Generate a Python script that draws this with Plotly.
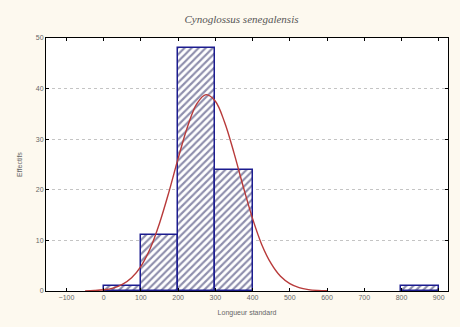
import plotly.graph_objects as go

# Histogram data (Longueur standard, bins of width 100)
bin_centers = [50, 150, 250, 350, 850]
counts = [1, 11, 48, 24, 1]
bin_width = 100

# Fitted normal curve
curve_x = [-50, -25, 0, 25, 50, 75, 100, 125, 150, 175, 200, 225, 250, 275,
           300, 325, 350, 375, 400, 425, 450, 475, 500, 525, 550, 575, 600]
curve_y = [0.03, 0.09, 0.24, 0.58, 1.29, 2.61, 4.89, 8.4, 13.4, 19.5, 26.2, 32.4,
           37.0, 38.8, 37.5, 33.3, 27.3, 20.6, 14.3, 9.1, 5.4, 2.9, 1.46, 0.67,
           0.28, 0.11, 0.04]

x_ticks = [-100, 0, 100, 200, 300, 400, 500, 600, 700, 800, 900]
y_ticks = [0, 10, 20, 30, 40, 50]

fig = go.Figure()
fig.add_trace(go.Bar(
    x=bin_centers, y=counts, width=[bin_width] * len(counts),
    marker=dict(color="white",
                line=dict(color="#1c1c8f", width=1.5),
                pattern=dict(shape="/", fgcolor="#1e1e5a", bgcolor="white",
                             size=5, solidity=0.42)),
    showlegend=False,
))
fig.add_trace(go.Scatter(
    x=curve_x, y=curve_y, mode="lines", line=dict(color="#b83a3a", width=1.4, shape="spline"),
    showlegend=False,
))

fig.update_layout(
    width=460, height=327,
    margin=dict(l=46, r=12, t=38, b=36),
    paper_bgcolor="#fdf9ef", plot_bgcolor="white",
    bargap=0,
    title=dict(text="<i>Cynoglossus senegalensis</i>", x=0.525, xanchor="center",
               y=0.94, yanchor="middle",
               font=dict(family="Liberation Serif", size=11, color="#555555")),
    font=dict(family="Liberation Sans", size=7, color="#666666"),
)
fig.update_xaxes(
    range=[-155, 925], tickvals=x_ticks, ticks="inside", ticklen=3, tickcolor="black",
    showline=True, linecolor="black", linewidth=1, mirror="ticks", showgrid=False,
    zeroline=False,
    title=dict(text="Longueur standard", font=dict(size=7, color="#666666"), standoff=9),
)
fig.update_yaxes(
    range=[0, 50], tickvals=y_ticks, ticks="inside", ticklen=3, tickcolor="black",
    showline=True, linecolor="black", linewidth=1, mirror="ticks",
    showgrid=True, gridcolor="#c4c4c4", griddash="dot", gridwidth=1, zeroline=False,
    title=dict(text="Effectifs", font=dict(size=7, color="#666666"), standoff=12),
)

fig.write_html("out.html")
